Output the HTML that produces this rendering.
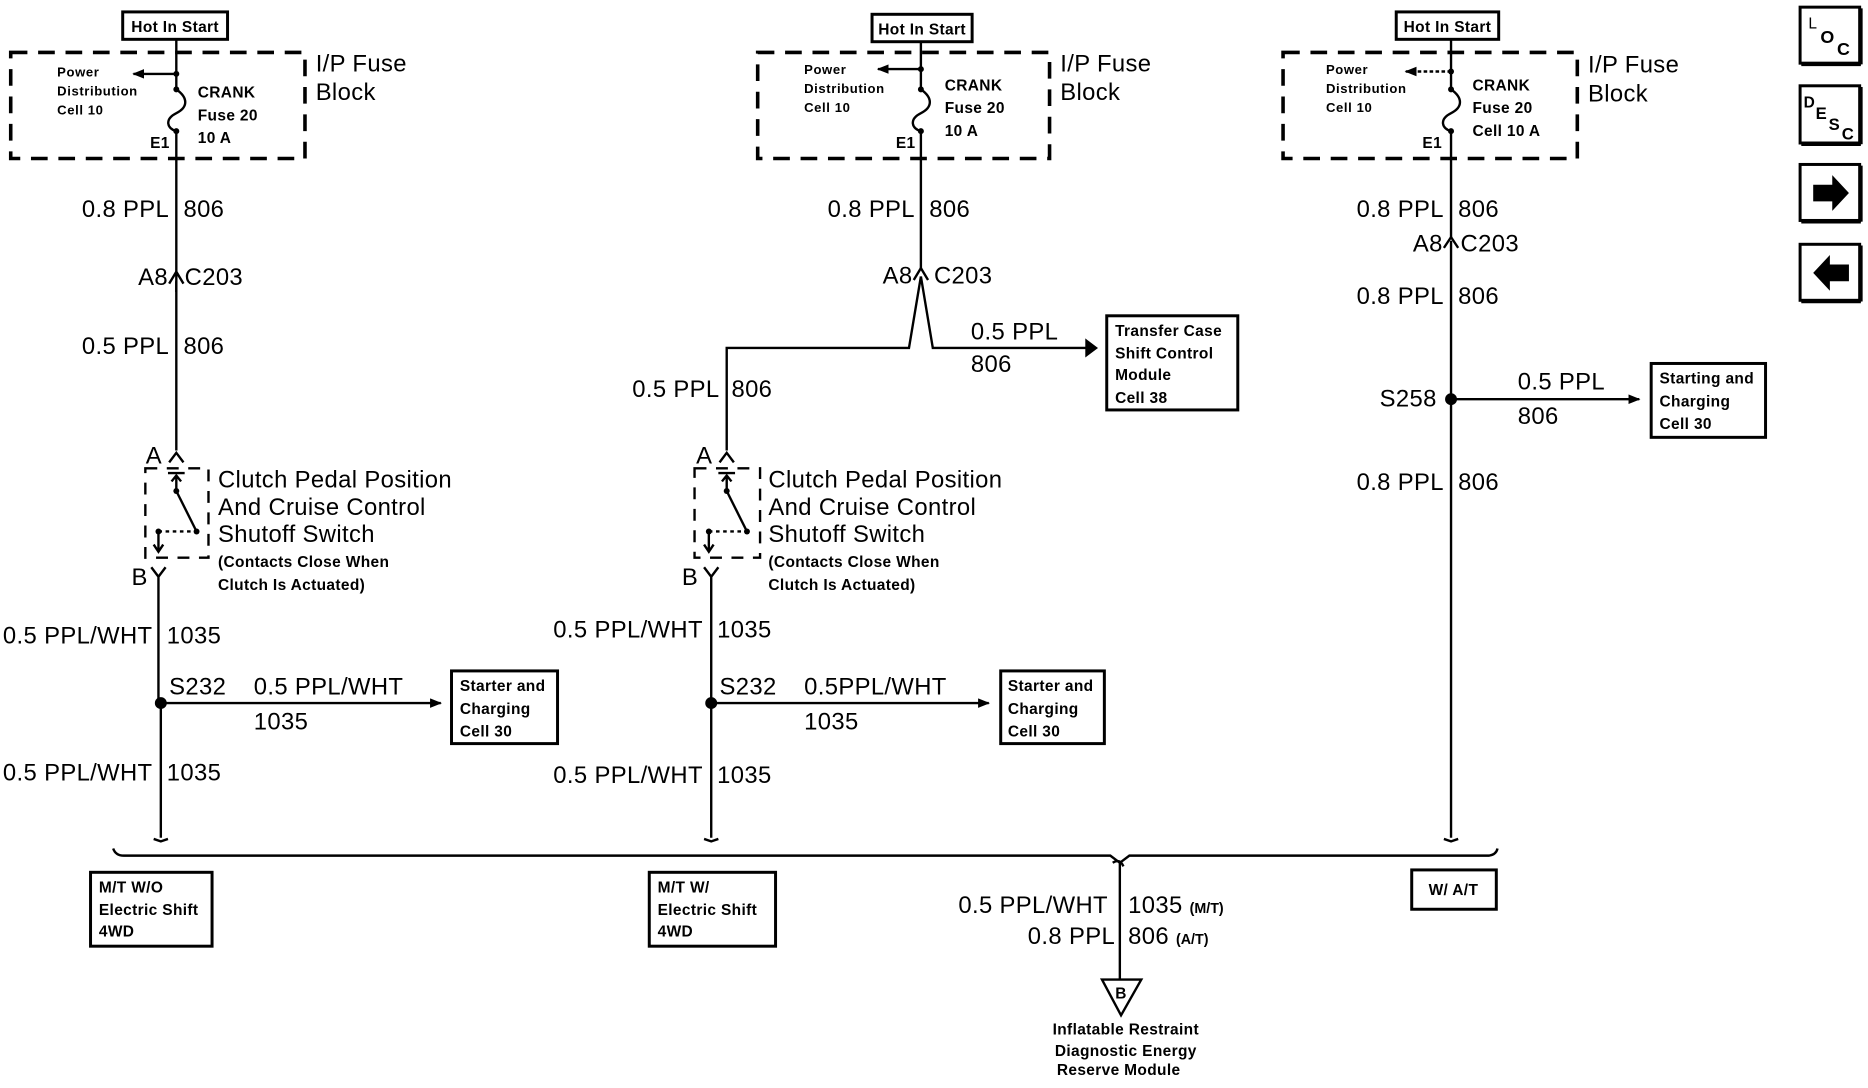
<!DOCTYPE html>
<html><head><meta charset="utf-8"><style>
html,body{margin:0;padding:0;background:#fff;}
svg{display:block;}
text{font-family:"Liberation Sans",sans-serif;fill:#000;}
.L{font-size:20px;letter-spacing:0.3px;}
.M{font-size:13px;letter-spacing:0.3px;font-weight:bold;}
.S{font-size:11px;letter-spacing:0.5px;font-weight:bold;}
.r{text-anchor:end;}
.c{text-anchor:middle;}
</style></head><body>
<svg width="1868" height="1088" viewBox="0 0 1568 913" preserveAspectRatio="none" xmlns="http://www.w3.org/2000/svg">
<defs>
<marker id="ah" markerWidth="10" markerHeight="8" refX="9" refY="4" orient="auto" markerUnits="userSpaceOnUse"><path d="M0,0 L10,4 L0,8z" fill="#000"/></marker>
</defs>
<g stroke="#000" fill="none" stroke-width="2">

<rect x="103" y="10" width="88" height="23" stroke-width="2.5"/>
<rect x="9" y="44" width="247" height="89" stroke-width="3" stroke-dasharray="14,9"/>
<line x1="148" y1="33" x2="148" y2="75"/>
<line x1="148" y1="62" x2="112" y2="62" marker-end="url(#ah)"/>
<path d="M148,75 C158,82 158,90 148,95 C138,100 140,108 148,110"/>
<line x1="148" y1="110" x2="148" y2="228"/>
<path d="M142,238 L148,228 L154,238 M148,230 L148,245" />
<line x1="148" y1="236" x2="148" y2="378"/>
<path d="M142,388 L148,380 L154,388"/>
<rect x="122" y="393" width="53" height="75" stroke-dasharray="10,8"/>
<line x1="141" y1="397" x2="155" y2="397"/>
<path d="M148,412 L148,400 M144,404 L148,399 L152,404"/>
<line x1="148" y1="412" x2="165" y2="446"/>
<line x1="133" y1="446" x2="165" y2="446" stroke-dasharray="3,3"/>
<path d="M133,446 L133,462 M129,457 L133,463 L137,457"/>
<path d="M127,476 L133,484 L139,476 M133,484 L133,590"/>
<line x1="135" y1="590" x2="370" y2="590" marker-end="url(#ah)"/>
<line x1="135" y1="590" x2="135" y2="703"/>
<path d="M129,704 L135,706 L141,704"/>
<rect x="379" y="563" width="89" height="61" stroke-width="2.5"/>

<rect x="732" y="12" width="84" height="23" stroke-width="2.5"/>
<rect x="636" y="44" width="245" height="89" stroke-width="3" stroke-dasharray="14,9"/>
<line x1="773" y1="35" x2="773" y2="75"/>
<line x1="773" y1="58" x2="737" y2="58" marker-end="url(#ah)"/>
<path d="M773,75 C783,82 783,90 773,95 C763,100 765,108 773,110"/>
<line x1="773" y1="110" x2="773" y2="225"/>
<path d="M767,235 L773,225 L779,235"/>
<path d="M773,232 L763,292 L610,292 L610,378 M773,232 L783,292 L918,292" />
<path d="M604,388 L610,380 L616,388"/>
<rect x="583" y="393" width="55" height="75" stroke-dasharray="10,8"/>
<line x1="603" y1="397" x2="617" y2="397"/>
<path d="M610,412 L610,400 M606,404 L610,399 L614,404"/>
<line x1="610" y1="412" x2="627" y2="446"/>
<line x1="595" y1="446" x2="627" y2="446" stroke-dasharray="3,3"/>
<path d="M595,446 L595,462 M591,457 L595,463 L599,457"/>
<path d="M591,476 L597,484 L603,476 M597,484 L597,703"/>
<path d="M591,704 L597,706 L603,704"/>
<line x1="597" y1="590" x2="830" y2="590" marker-end="url(#ah)"/>
<rect x="840" y="563" width="87" height="61" stroke-width="2.5"/>
<rect x="929" y="265" width="110" height="79" stroke-width="2.5"/>
<path d="M912,286 L920,292 L912,298z" fill="#000"/>

<rect x="1172" y="10" width="86" height="23" stroke-width="2.5"/>
<rect x="1077" y="44" width="247" height="89" stroke-width="3" stroke-dasharray="14,9"/>
<line x1="1218" y1="33" x2="1218" y2="75"/>
<line x1="1218" y1="60" x2="1180" y2="60" stroke-dasharray="3,2" marker-end="url(#ah)"/>
<path d="M1218,75 C1228,82 1228,90 1218,95 C1208,100 1210,108 1218,110"/>
<line x1="1218" y1="110" x2="1218" y2="200"/>
<path d="M1212,208 L1218,199 L1224,208"/>
<line x1="1218" y1="202" x2="1218" y2="703"/>
<path d="M1212,704 L1218,706 L1224,704"/>
<line x1="1218" y1="335" x2="1376" y2="335" marker-end="url(#ah)"/>
<rect x="1386" y="305" width="96" height="62" stroke-width="2.5"/>

<path d="M95,712 Q97,718 104,718 L932,718 L940,724 L948,718 L1250,718 Q1256,717 1257,712"/>
<path d="M934,724 Q940,720 943,727 M940,724 L940,822"/>
<path d="M925,822 L958,822 L941,852z"/>
<rect x="76" y="732" width="102" height="62" stroke-width="2.5"/>
<rect x="545" y="732" width="106" height="62" stroke-width="2.5"/>
<rect x="1185" y="730" width="71" height="33" stroke-width="2.5"/>

<rect x="1511" y="6" width="50" height="47" stroke-width="2.5"/>
<line x1="1562" y1="7" x2="1562" y2="54" stroke-width="3"/><line x1="1512" y1="54" x2="1562" y2="54" stroke-width="3"/>
<rect x="1511" y="72" width="50" height="48" stroke-width="2.5"/>
<line x1="1562" y1="73" x2="1562" y2="121" stroke-width="3"/><line x1="1512" y1="121" x2="1562" y2="121" stroke-width="3"/>
<rect x="1511" y="138" width="50" height="47" stroke-width="2.5"/>
<line x1="1562" y1="139" x2="1562" y2="186" stroke-width="3"/><line x1="1512" y1="186" x2="1562" y2="186" stroke-width="3"/>
<rect x="1511" y="205" width="50" height="47" stroke-width="2.5"/>
<line x1="1562" y1="206" x2="1562" y2="253" stroke-width="3"/><line x1="1512" y1="253" x2="1562" y2="253" stroke-width="3"/>
</g>
<g fill="#000">
<circle cx="135" cy="590" r="5"/><circle cx="597" cy="590" r="5"/><circle cx="1218" cy="335" r="5"/>
<circle cx="148" cy="62" r="2.5"/><circle cx="148" cy="75" r="2.5"/><circle cx="148" cy="110" r="2.5"/>
<circle cx="773" cy="58" r="2.5"/><circle cx="773" cy="75" r="2.5"/><circle cx="773" cy="110" r="2.5"/>
<circle cx="1218" cy="60" r="2.5"/><circle cx="1218" cy="75" r="2.5"/><circle cx="1218" cy="110" r="2.5"/>
<circle cx="148" cy="412" r="2.5"/><circle cx="165" cy="446" r="2.5"/><circle cx="133" cy="446" r="2.5"/>
<circle cx="610" cy="412" r="2.5"/><circle cx="627" cy="446" r="2.5"/><circle cx="595" cy="446" r="2.5"/>
<path d="M1522,155 L1538,155 L1538,147 L1552,162 L1538,177 L1538,169 L1522,169z"/>
<path d="M1552,222 L1536,222 L1536,214 L1522,229 L1536,244 L1536,236 L1552,236z"/>
</g>

<text x="147" y="27" class="M c">Hot In Start</text>
<text x="265" y="60" class="L">I/P Fuse</text><text x="265" y="84" class="L">Block</text>
<text x="48" y="64" class="S">Power</text><text x="48" y="80" class="S">Distribution</text><text x="48" y="96" class="S">Cell 10</text>
<text x="166" y="82" class="M">CRANK</text><text x="166" y="101" class="M">Fuse 20</text><text x="166" y="120" class="M">10 A</text>
<text x="126" y="124" class="M">E1</text>
<text x="142" y="182" class="L r">0.8 PPL</text><text x="154" y="182" class="L">806</text>
<text x="141" y="239" class="L r">A8</text><text x="155" y="239" class="L">C203</text>
<text x="142" y="297" class="L r">0.5 PPL</text><text x="154" y="297" class="L">806</text>
<text x="136" y="389" class="L r">A</text>
<text x="183" y="409" class="L">Clutch Pedal Position</text><text x="183" y="432" class="L">And Cruise Control</text><text x="183" y="455" class="L">Shutoff Switch</text>
<text x="183" y="476" class="M">(Contacts Close When</text><text x="183" y="495" class="M">Clutch Is Actuated)</text>
<text x="124" y="491" class="L r">B</text>
<text x="128" y="540" class="L r">0.5 PPL/WHT</text><text x="140" y="540" class="L">1035</text>
<text x="142" y="583" class="L">S232</text><text x="213" y="583" class="L">0.5 PPL/WHT</text><text x="213" y="612" class="L">1035</text>
<text x="386" y="580" class="M">Starter and</text><text x="386" y="599" class="M">Charging</text><text x="386" y="618" class="M">Cell 30</text>
<text x="128" y="655" class="L r">0.5 PPL/WHT</text><text x="140" y="655" class="L">1035</text>

<text x="774" y="29" class="M c">Hot In Start</text>
<text x="890" y="60" class="L">I/P Fuse</text><text x="890" y="84" class="L">Block</text>
<text x="675" y="62" class="S">Power</text><text x="675" y="78" class="S">Distribution</text><text x="675" y="94" class="S">Cell 10</text>
<text x="793" y="76" class="M">CRANK</text><text x="793" y="95" class="M">Fuse 20</text><text x="793" y="114" class="M">10 A</text>
<text x="752" y="124" class="M">E1</text>
<text x="768" y="182" class="L r">0.8 PPL</text><text x="780" y="182" class="L">806</text>
<text x="766" y="238" class="L r">A8</text><text x="784" y="238" class="L">C203</text>
<text x="815" y="285" class="L">0.5 PPL</text><text x="815" y="312" class="L">806</text>
<text x="936" y="282" class="M">Transfer Case</text><text x="936" y="301" class="M">Shift Control</text><text x="936" y="319" class="M">Module</text><text x="936" y="338" class="M">Cell 38</text>
<text x="604" y="333" class="L r">0.5 PPL</text><text x="614" y="333" class="L">806</text>
<text x="598" y="389" class="L r">A</text>
<text x="645" y="409" class="L">Clutch Pedal Position</text><text x="645" y="432" class="L">And Cruise Control</text><text x="645" y="455" class="L">Shutoff Switch</text>
<text x="645" y="476" class="M">(Contacts Close When</text><text x="645" y="495" class="M">Clutch Is Actuated)</text>
<text x="586" y="491" class="L r">B</text>
<text x="590" y="535" class="L r">0.5 PPL/WHT</text><text x="602" y="535" class="L">1035</text>
<text x="604" y="583" class="L">S232</text><text x="675" y="583" class="L">0.5PPL/WHT</text><text x="675" y="612" class="L">1035</text>
<text x="846" y="580" class="M">Starter and</text><text x="846" y="599" class="M">Charging</text><text x="846" y="618" class="M">Cell 30</text>
<text x="590" y="657" class="L r">0.5 PPL/WHT</text><text x="602" y="657" class="L">1035</text>

<text x="1215" y="27" class="M c">Hot In Start</text>
<text x="1333" y="61" class="L">I/P Fuse</text><text x="1333" y="85" class="L">Block</text>
<text x="1113" y="62" class="S">Power</text><text x="1113" y="78" class="S">Distribution</text><text x="1113" y="94" class="S">Cell 10</text>
<text x="1236" y="76" class="M">CRANK</text><text x="1236" y="95" class="M">Fuse 20</text><text x="1236" y="114" class="M">Cell 10 A</text>
<text x="1194" y="124" class="M">E1</text>
<text x="1212" y="182" class="L r">0.8 PPL</text><text x="1224" y="182" class="L">806</text>
<text x="1211" y="211" class="L r">A8</text><text x="1226" y="211" class="L">C203</text>
<text x="1212" y="255" class="L r">0.8 PPL</text><text x="1224" y="255" class="L">806</text>
<text x="1206" y="341" class="L r">S258</text>
<text x="1274" y="327" class="L">0.5 PPL</text><text x="1274" y="356" class="L">806</text>
<text x="1393" y="322" class="M">Starting and</text><text x="1393" y="341" class="M">Charging</text><text x="1393" y="360" class="M">Cell 30</text>
<text x="1212" y="411" class="L r">0.8 PPL</text><text x="1224" y="411" class="L">806</text>

<text x="83" y="749" class="M">M/T W/O</text><text x="83" y="768" class="M">Electric Shift</text><text x="83" y="786" class="M">4WD</text>
<text x="552" y="749" class="M">M/T W/</text><text x="552" y="768" class="M">Electric Shift</text><text x="552" y="786" class="M">4WD</text>
<text x="1220" y="751" class="M c">W/ A/T</text>
<text x="930" y="766" class="L r">0.5 PPL/WHT</text><text x="947" y="766" class="L">1035 <tspan style="font-size:12px;font-weight:bold;letter-spacing:0">(M/T)</tspan></text>
<text x="936" y="792" class="L r">0.8 PPL</text><text x="947" y="792" class="L">806 <tspan style="font-size:12px;font-weight:bold;letter-spacing:0">(A/T)</tspan></text>
<text x="941" y="838" class="M c">B</text>
<text x="945" y="868" class="M c">Inflatable Restraint</text><text x="945" y="886" class="M c">Diagnostic Energy</text><text x="939" y="902" class="M c">Reserve Module</text>

<text x="1518" y="24" style="font-size:13px">L</text><text x="1528" y="36" style="font-size:15px;font-weight:bold">O</text><text x="1542" y="46" style="font-size:15px;font-weight:bold">C</text>
<text x="1514" y="90" style="font-size:13px;font-weight:bold">D</text><text x="1524" y="100" style="font-size:14px;font-weight:bold">E</text><text x="1535" y="109" style="font-size:14px;font-weight:bold">S</text><text x="1546" y="117" style="font-size:14px;font-weight:bold">C</text>
</svg>
</body></html>
